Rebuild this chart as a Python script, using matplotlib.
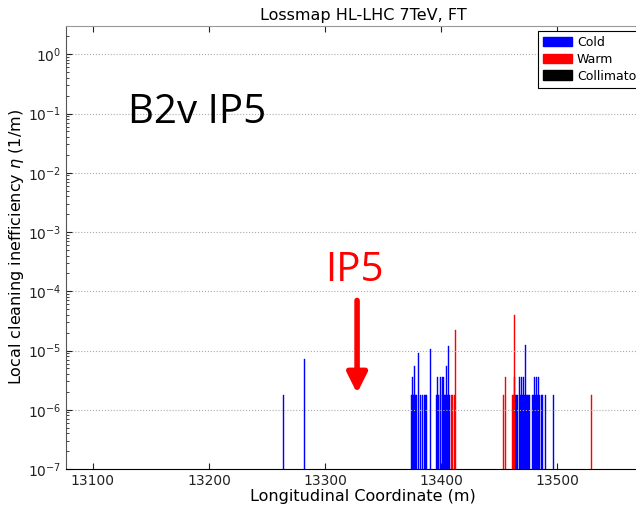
import matplotlib
matplotlib.use("Agg")
import matplotlib.pyplot as plt
from matplotlib.patches import Patch
from matplotlib.ticker import LogLocator

# Loss map data (s in m, eta in 1/m)
cold_s = [13264.5, 13282.0,
          13374, 13375, 13375.5, 13376, 13377, 13377.3, 13378, 13379, 13380,
          13382.5, 13383.5, 13386, 13387, 13391,
          13396, 13396.4, 13397, 13398, 13399, 13399.3, 13401.5,
          13402, 13403, 13404, 13404.5, 13405, 13406, 13406.4, 13407,
          13462.8, 13464, 13465, 13466, 13467, 13468, 13469, 13470, 13471,
          13472, 13472.8, 13473, 13474, 13475, 13476,
          13479, 13480, 13481, 13482, 13483, 13484, 13485, 13486, 13487,
          13489.7, 13496.6]
cold_eta = [1.8e-6, 7.2e-6,
            1.8e-6, 1.8e-6, 3.6e-6, 1.8e-6, 1.8e-6, 5.4e-6, 1.8e-6, 1.8e-6, 9.0e-6,
            1.8e-6, 1.8e-6, 1.8e-6, 1.8e-6, 1.08e-5,
            1.8e-6, 3.6e-6, 1.8e-6, 1.8e-6, 1.8e-6, 3.6e-6, 3.6e-6,
            1.8e-6, 1.8e-6, 1.8e-6, 5.4e-6, 1.8e-6, 1.8e-6, 1.2e-5, 1.8e-6,
            3.6e-6, 1.8e-6, 1.8e-6, 1.8e-6, 3.6e-6, 1.8e-6, 3.6e-6, 1.8e-6, 3.6e-6,
            1.8e-6, 1.26e-5, 1.8e-6, 1.8e-6, 1.8e-6, 1.8e-6,
            1.8e-6, 3.6e-6, 1.8e-6, 3.6e-6, 1.8e-6, 3.6e-6, 1.8e-6, 1.8e-6, 1.8e-6,
            1.8e-6, 1.8e-6]

warm_s = [13409, 13410, 13411, 13412, 13454, 13455, 13461, 13462, 13463, 13529.5]
warm_eta = [1.8e-6, 1.8e-6, 1.8e-6, 2.2e-5, 1.8e-6, 3.6e-6, 1.8e-6, 1.8e-6, 3.9e-5, 1.8e-6]

coll_s = []
coll_eta = []

xticks = [13100, 13200, 13300, 13400, 13500]

fig = plt.figure(figsize=(6.36, 5.07), dpi=100)
# axes run past the right edge of the figure, like the cropped original
ax = fig.add_axes([66 / 636, 38 / 507, 594 / 636, 443 / 507])

ax.bar(cold_s, cold_eta, width=0.9, color="blue", edgecolor="blue", linewidth=0.3)
ax.bar(warm_s, warm_eta, width=0.9, color="red", edgecolor="red", linewidth=0.3)
if coll_s:
    ax.bar(coll_s, coll_eta, width=0.9, color="black", edgecolor="black", linewidth=0.3)

ax.set_yscale("log")
ax.set_ylim(1e-7, 3)
ax.set_xlim(13076.8, 13588.4)
ax.set_xticks(xticks)
ax.set_xticklabels([str(t) for t in xticks])
ax.yaxis.set_major_locator(LogLocator(base=10, numticks=20))
ax.yaxis.set_minor_locator(LogLocator(base=10, subs=(2, 3, 4, 5, 6, 7, 8, 9), numticks=20))

ax.tick_params(which="both", direction="in", top=True, right=True, labelsize=10, colors="#222222")
ax.tick_params(which="major", length=4)
ax.tick_params(which="minor", length=2)
ax.yaxis.grid(True, which="major", linestyle=":", color="#aaaaaa", linewidth=0.8)
for side in ["top", "right"]:
    ax.spines[side].set_color("#999999")
ax.spines["left"].set_color("#555555")
ax.spines["bottom"].set_color("black")

ax.set_title("Lossmap HL-LHC 7TeV, FT", fontsize=11.5, pad=4)
ax.set_xlabel("Longitudinal Coordinate (m)", fontsize=11.5, labelpad=1)
ax.set_ylabel(r"Local cleaning inefficiency $\eta$ (1/m)", fontsize=11.5, labelpad=1)

handles = [Patch(facecolor="blue", edgecolor="blue", label="Cold"),
           Patch(facecolor="red", edgecolor="red", label="Warm"),
           Patch(facecolor="black", edgecolor="black", label="Collimator")]
leg = ax.legend(handles=handles, loc="upper left", bbox_to_anchor=(538 / 636, 1 - 31 / 507),
                bbox_transform=fig.transFigure, borderaxespad=0, fontsize=9,
                fancybox=False, framealpha=1, handlelength=2.3, handleheight=0.8,
                labelspacing=0.3, borderpad=0.4, handletextpad=0.4)
leg.get_frame().set_edgecolor("black")
leg.get_frame().set_linewidth(0.8)

# overlay annotations
fig.text(128 / 636, 1 - 113 / 507, "B2v IP5", fontsize=29, family="Open Sans",
         color="black", va="center", ha="left")
ax.annotate("", xy=(13327.5, 1.9e-6), xytext=(13327.5, 7e-5),
            arrowprops=dict(arrowstyle="-|>,head_width=0.3,head_length=0.6",
                            color="red", lw=4, mutation_scale=20, shrinkA=0, shrinkB=0))
ax.text(13325, 2.2e-4, "IP5", fontsize=29, family="Open Sans", color="red",
        ha="center", va="center")

fig.savefig("out.png", dpi=100)
